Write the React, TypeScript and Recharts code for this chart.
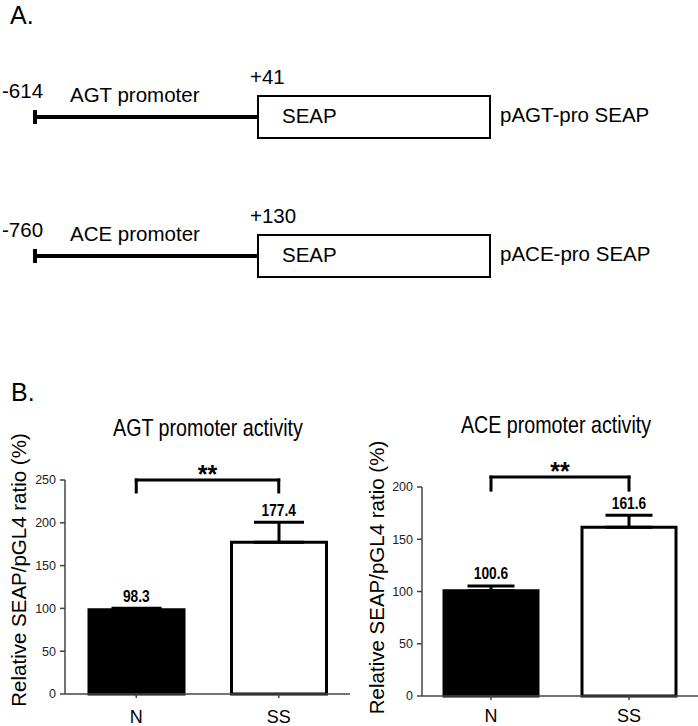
import { BarChart, Bar, XAxis, YAxis, Cell, ErrorBar, ReferenceLine, ReferenceDot } from 'recharts';

const FONT = "'Liberation Sans', Arial, Helvetica, sans-serif";

// panel B data
const groups = ['N', 'SS'];
const agtMeans = [98.3, 177.4];
const agtErrors = [1.8, 23.2];
const aceMeans = [100.6, 161.6];
const aceErrors = [4.7, 11.4];
const agtTicks = [0, 50, 100, 150, 200, 250];
const aceTicks = [0, 50, 100, 150, 200];
const agtBracket = [250, 236];
const aceBracket = [209.5, 197];
const barFills = ['#000', '#fff'];

// panel A constructs
const constructs = [
  { start: '-614', end: '+41', promoter: 'AGT promoter', plasmid: 'pAGT-pro SEAP' },
  { start: '-760', end: '+130', promoter: 'ACE promoter', plasmid: 'pACE-pro SEAP' },
];
const rowLines = [117, 256];

function squish(text: string, x: number, y: number, size: number, bold: boolean, sx: number) {
  return (
    <text
      transform={`translate(${x},${y}) scale(${sx},1)`}
      textAnchor="middle"
      fontSize={size}
      fontWeight={bold ? 'bold' : 'normal'}
      fontFamily={FONT}
      fill="#000"
    >
      {text}
    </text>
  );
}

const topLabel = (text: string, size: number, sx: number, dy: number) => (props: any) => {
  const vb = props.viewBox;
  return squish(text, vb.x + vb.width / 2, vb.y + dy, size, true, sx);
};

const yLabel = (dx: number, dy: number) => (props: any) => {
  const vb = props.viewBox;
  const cx = vb.x + dx;
  const cy = vb.y + vb.height / 2 + dy;
  return (
    <text
      transform={`translate(${cx},${cy}) rotate(-90)`}
      textAnchor="middle"
      fontSize={20.5}
      fontFamily={FONT}
      fill="#000"
    >
      Relative SEAP/pGL4 ratio (%)
    </text>
  );
};

interface PromoterChartProps {
  means: number[];
  errors: number[];
  ticks: number[];
  bracket: number[];
  width: number;
  height: number;
  margin: { top: number; right: number; bottom: number; left: number };
  yAxisWidth: number;
  xAxisHeight: number;
  xTickMargin: number;
  barSize: number;
  capWidth: number;
  labelDx: number;
  labelDy: number;
}

function PromoterChart(p: PromoterChartProps) {
  const data = groups.map((g, i) => ({ group: g, mean: p.means[i], err: [0, p.errors[i]] }));
  const [top, leg] = p.bracket;
  const line = { stroke: '#000', strokeWidth: 3, strokeLinecap: 'square' as const, ifOverflow: 'visible' as const };
  return (
    <BarChart width={p.width} height={p.height} data={data} margin={p.margin}>
      <XAxis
        dataKey="group"
        height={p.xAxisHeight}
        tickSize={4}
        tickMargin={p.xTickMargin}
        tick={{ fontSize: 18, fill: '#000', fontFamily: FONT }}
        axisLine={{ stroke: '#444', strokeWidth: 1.5 }}
        tickLine={{ stroke: '#444', strokeWidth: 1.5 }}
      />
      <YAxis
        domain={[0, p.ticks[p.ticks.length - 1]]}
        ticks={p.ticks}
        width={p.yAxisWidth}
        tickSize={5}
        tickMargin={4}
        tick={{ fontSize: 12.5, fill: '#222', fontFamily: FONT }}
        axisLine={{ stroke: '#444', strokeWidth: 1.5 }}
        tickLine={{ stroke: '#444', strokeWidth: 1.5 }}
        label={{ content: yLabel(p.labelDx, p.labelDy) }}
      />
      <Bar dataKey="mean" barSize={p.barSize} stroke="#000" strokeWidth={3} isAnimationActive={false}>
        {data.map((d, i) => (
          <Cell key={d.group} fill={barFills[i]} />
        ))}
        <ErrorBar dataKey="err" width={p.capWidth} stroke="#000" strokeWidth={3} isAnimationActive={false} />
      </Bar>
      {data.map((d, i) => (
        <ReferenceDot
          key={d.group}
          x={d.group}
          y={p.means[i] + p.errors[i]}
          r={0}
          fill="none"
          stroke="none"
          ifOverflow="visible"
          label={{ content: topLabel(p.means[i].toFixed(1), 16, 0.86, -6.5) }}
        />
      ))}
      <ReferenceLine
        segment={[{ x: groups[0], y: top }, { x: groups[1], y: top }]}
        {...line}
        label={{ content: topLabel('**', 25, 1, 3) }}
      />
      <ReferenceLine segment={[{ x: groups[0], y: top }, { x: groups[0], y: leg }]} {...line} />
      <ReferenceLine segment={[{ x: groups[1], y: top }, { x: groups[1], y: leg }]} {...line} />
    </BarChart>
  );
}

export default function App() {
  return (
    <div
      style={{
        position: 'absolute',
        left: 0,
        top: 0,
        width: 698,
        height: 726,
        background: '#fff',
        overflow: 'hidden',
        fontFamily: FONT,
      }}
    >
      <svg width={698} height={380} style={{ position: 'absolute', left: 0, top: 0 }}>
        <text x={10} y={24} fontSize={25} fontFamily={FONT}>A.</text>
        {constructs.map((c, i) => {
          const L = rowLines[i];
          return (
            <g key={c.plasmid} fontFamily={FONT} fontSize={20.5} fill="#000">
              <text x={2} y={L - 19}>{c.start}</text>
              <text x={70} y={L - 15}>{c.promoter}</text>
              <text x={250} y={L - 33}>{c.end}</text>
              <line x1={35} x2={258} y1={L} y2={L} stroke="#000" strokeWidth={4} />
              <line x1={35} x2={35} y1={L - 7} y2={L + 7} stroke="#000" strokeWidth={4} />
              <rect x={258} y={L - 21} width={232} height={42} fill="none" stroke="#000" strokeWidth={2} />
              <text x={282} y={L + 6}>SEAP</text>
              <text x={500} y={L + 5}>{c.plasmid}</text>
            </g>
          );
        })}
      </svg>
      <div style={{ position: 'absolute', left: 0, top: 400 }}>
        <PromoterChart
          means={agtMeans}
          errors={agtErrors}
          ticks={agtTicks}
          bracket={agtBracket}
          width={360}
          height={326}
          margin={{ top: 80, right: 10, bottom: 0, left: 0 }}
          yAxisWidth={65}
          xAxisHeight={32}
          xTickMargin={12}
          barSize={95}
          capWidth={25}
          labelDx={26}
          labelDy={-17}
        />
      </div>
      <div style={{ position: 'absolute', left: 350, top: 400 }}>
        <PromoterChart
          means={aceMeans}
          errors={aceErrors}
          ticks={aceTicks}
          bracket={aceBracket}
          width={348}
          height={326}
          margin={{ top: 87, right: 0, bottom: 0, left: 0 }}
          yAxisWidth={72}
          xAxisHeight={30}
          xTickMargin={9}
          barSize={94}
          capWidth={23.5}
          labelDx={34}
          labelDy={-14}
        />
      </div>
      <svg width={698} height={726} style={{ position: 'absolute', left: 0, top: 0, pointerEvents: 'none' }}>
        <text x={11} y={401} fontSize={25} fontFamily={FONT}>B.</text>
        {squish('AGT promoter activity', 208, 436, 24, false, 0.82)}
        {squish('ACE promoter activity', 556, 433, 24, false, 0.82)}
      </svg>
    </div>
  );
}
